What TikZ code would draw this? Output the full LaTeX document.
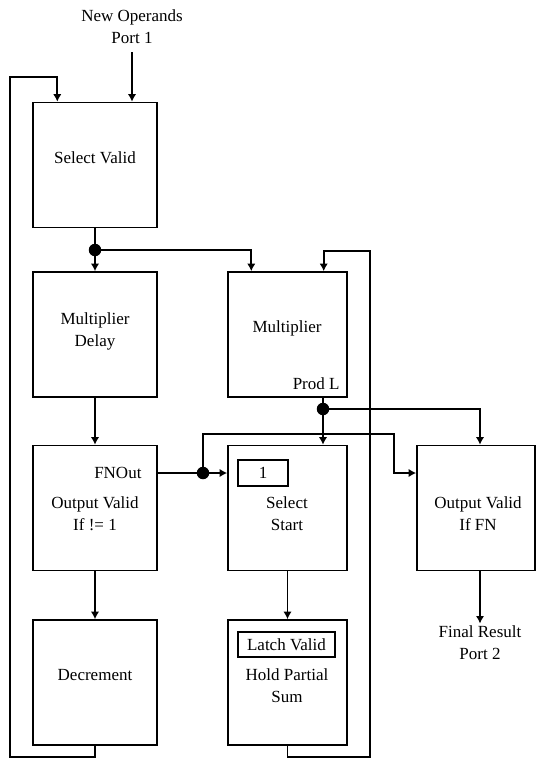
\documentclass[tikz,border=0pt]{standalone}
\usepackage{fontspec}
\setmainfont{Liberation Serif}
\usetikzlibrary{
  calc,%
  arrows.meta,
  positioning
}
\tikzset{>={Latex[length=4.5pt,width=5pt]}}
\tikzset{font=\fontsize{10.2}{13.2}\selectfont}
\tikzset{blk/.style={draw, line width=1pt, minimum width=74.4pt,
    minimum height=75pt, inner sep=0pt},
  tag/.style={draw, line width=1pt, minimum height=15pt, inner sep=1pt},
  txt/.style={inner sep=1pt, align=center},
  dot/.style={circle, fill=black, inner sep=0pt, minimum size=7.5pt}}

\begin{document}
\begin{tikzpicture}[x=0.6pt, y=-0.6pt, line width=1pt]
  \useasboundingbox (0,0) rectangle (536,762);
  % blocks
  \node[blk] (sv) at (95,165) {};
  \node[blk] (md) at (95,334.5) {};
  \node[blk] (ov) at (95,508) {};
  \node[blk] (dec) at (95,682.5) {};
  \node[blk, minimum width=71.4pt] (mul) at (287.5,334.5) {};
  \node[blk, minimum width=71.4pt] (ss) at (287.5,508) {};
  \node[blk, minimum width=71.4pt] (hps) at (287.5,682.5) {};
  \node[blk, minimum width=70.8pt] (ovf) at (476,508) {};
  % texts
  \node[txt] (new) at (132,27) {New Operands\\Port 1};
  \node[txt] (sv-t) at (95,158) {Select Valid};
  \node[txt] (md-t) at (95,331) {Multiplier\\Delay};
  \node[txt] (mul-t) at (287,328) {Multiplier};
  \node[txt, anchor=east] (prod) at (342,384) {Prod L};
  \node[txt, anchor=east] (fn) at (144,473) {FNOut};
  \node[txt] (ov-t) at (95,514) {Output Valid\\If != 1};
  \node[txt] (ss-t) at (287,514) {Select\\Start};
  \node[txt] (ovf-t) at (478,514) {Output Valid\\If FN};
  \node[txt] (dec-t) at (95,675) {Decrement};
  \node[txt] (hps-t) at (287,686) {Hold Partial\\Sum};
  \node[txt] (fr) at (480,643) {Final Result\\Port 2};
  \node[tag, minimum width=30pt, minimum height=15.6pt] (one) at (263,473) {1};
  \node[tag, minimum width=58pt] (lv) at (286.5,644.5) {Latch Valid};
  % junctions
  \node[dot] (j1) at (95,250) {};
  \node[dot] (j2) at (323,409) {};
  \node[dot] (j3) at (203,473) {};
  \coordinate (in1) at (132,52);
  \coordinate (lb) at (10,757);
  \coordinate (lt) at (10,77);
  \coordinate (rb) at (370,757);
  \coordinate (rt) at (370,251);
  \coordinate (c1) at (394,434);
  % connectors
  \draw[->] (in1) -- (in1 |- sv.north);
  \draw[->] (dec.south) |- (lb) -- (lt) -| ($(sv.north west)!0.2!(sv.north east)$);
  \draw[->] (hps.south) |- (rb) -- (rt) -| ($(mul.north west)!0.8!(mul.north east)$);
  \draw (sv.south) -- (j1.center);
  \draw[->] (j1.center) -- (md.north);
  \draw[->] (j1.center) -| ($(mul.north west)!0.2!(mul.north east)$);
  \draw[->] (md.south) -- (ov.north);
  \draw[->] (ov.south) -- (dec.north);
  \draw (ov.east |- j3) -- (j3.center);
  \draw[->] (j3.center) -- (j3 -| ss.west);
  \draw[->] (j3.center) |- (c1) |- (j3 -| ovf.west);
  \draw (j2 |- mul.south) -- (j2.center);
  \draw[->] (j2.center) -- (j2 |- ss.north);
  \draw[->] (j2.center) -| (fr.north |- ovf.north);
  \draw[->] (ss.south) -- (hps.north);
  \draw[->] (fr.north |- ovf.south) -- (fr.north);
\end{tikzpicture}
\end{document}
